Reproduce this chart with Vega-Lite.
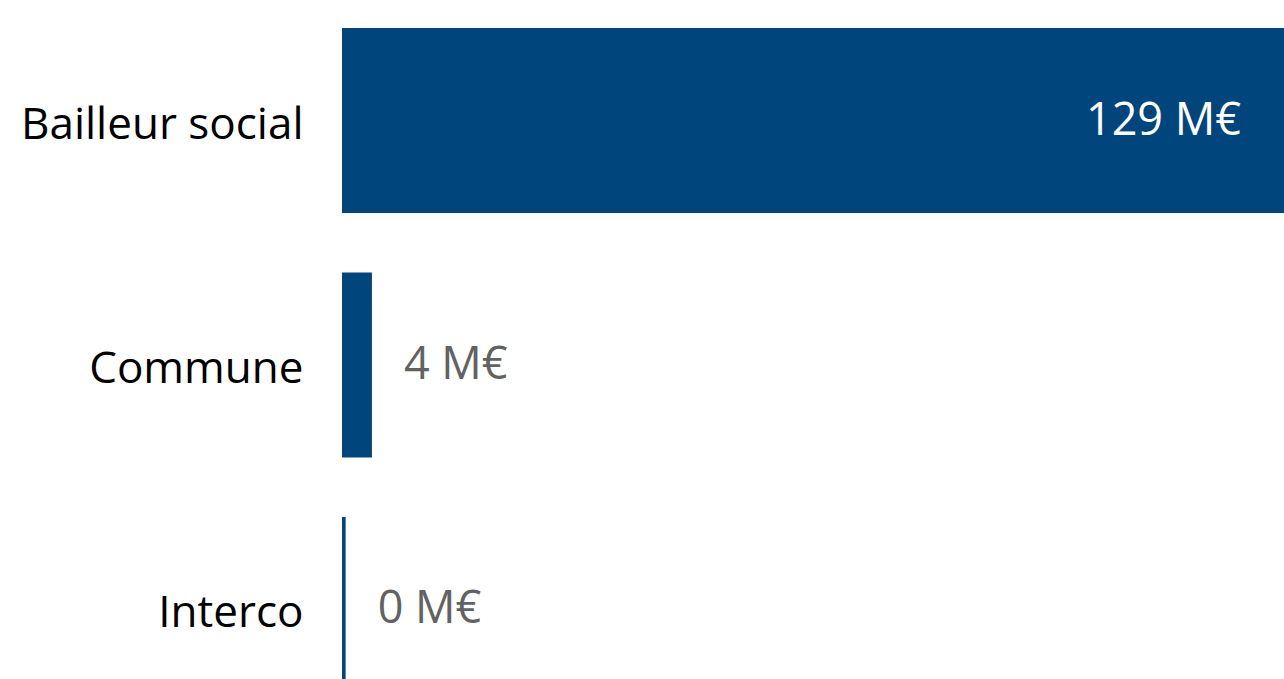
{
  "$schema": "https://vega.github.io/schema/vega-lite/v6.json",
  "autosize": "none",
  "padding": {"left": 342, "top": 0, "right": 0, "bottom": 0},
  "width": 942,
  "height": 679,
  "background": "white",
  "config": {"view": {"stroke": null}, "font": "Open Sans"},
  "data": {
    "values": [
      {"categorie": "Bailleur social", "montant": 129, "label": "129 M€"},
      {"categorie": "Commune", "montant": 4.1, "label": "4 M€"},
      {"categorie": "Interco", "montant": 0.5, "label": "0 M€"}
    ]
  },
  "encoding": {
    "y": {
      "field": "categorie",
      "type": "nominal",
      "sort": ["Bailleur social", "Commune", "Interco"],
      "scale": {"range": [28, 702], "paddingInner": 0.243, "paddingOuter": 0},
      "axis": {
        "title": null,
        "ticks": false,
        "domain": false,
        "labelFont": "Open Sans",
        "labelFontSize": 44,
        "labelColor": "#000000",
        "labelPadding": 39,
        "labelOffset": 5,
        "labelLimit": 400
      }
    },
    "x": {
      "field": "montant",
      "type": "quantitative",
      "scale": {"domain": [0, 129], "nice": false},
      "axis": null
    }
  },
  "layer": [
    {"mark": {"type": "bar", "color": "#00457C"}},
    {
      "transform": [{"filter": "datum.montant > 50"}],
      "mark": {"type": "text", "align": "right", "baseline": "middle", "dx": -43, "color": "#FFFFFF", "fontSize": 45, "font": "Open Sans"},
      "encoding": {"text": {"field": "label"}}
    },
    {
      "transform": [{"filter": "datum.montant <= 50"}],
      "mark": {"type": "text", "align": "left", "baseline": "middle", "dx": 32, "color": "#626262", "fontSize": 45, "font": "Open Sans"},
      "encoding": {"text": {"field": "label"}}
    }
  ]
}
